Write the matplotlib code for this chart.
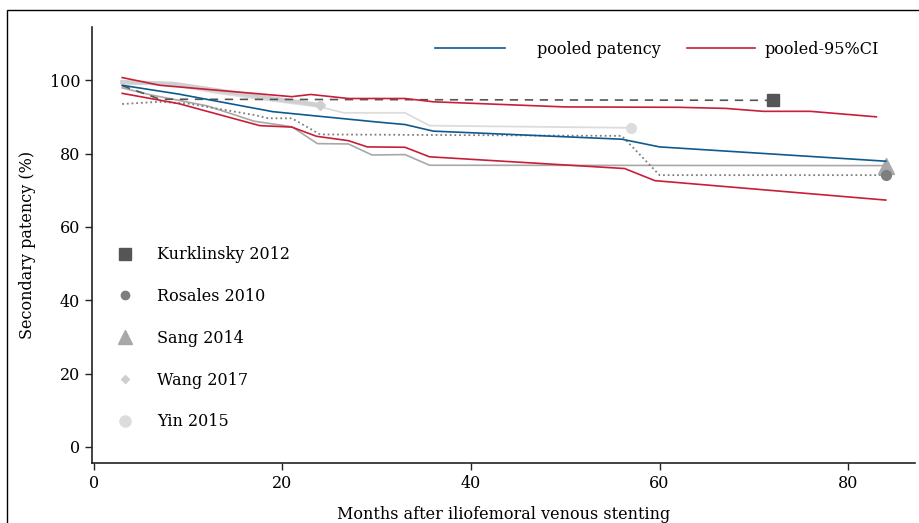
import matplotlib
matplotlib.use("Agg")
import matplotlib.pyplot as plt
from matplotlib.patches import Rectangle
from matplotlib.lines import Line2D

plt.rcParams['font.family'] = ['DejaVu Serif']

# pooled estimate and CI
pooled_x = [3, 9, 19, 30, 33, 36, 56, 60, 84]
pooled_y = [98.6, 96.2, 91.4, 88.6, 87.9, 86.1, 83.9, 81.8, 77.9]
upper_x = [3, 7, 21, 23, 27, 33, 36, 50, 62, 67, 71, 76, 83]
upper_y = [100.7, 98.6, 95.5, 96.1, 95.0, 95.0, 94.1, 92.7, 92.6, 92.3, 91.5, 91.5, 90.0]
lower_x = [3, 9, 17.6, 21, 23.6, 27, 29, 33, 35.6, 56.3, 59.5, 84]
lower_y = [96.4, 93.6, 87.6, 87.2, 84.7, 83.5, 81.8, 81.7, 79.1, 75.9, 72.6, 67.3]

# studies
kurk_x = [3, 7, 72]
kurk_y = [98.5, 94.8, 94.5]
ros_x = [3, 7, 10, 17, 18.5, 21, 24, 56, 60, 84]
ros_y = [93.5, 94.1, 93.6, 90.5, 89.6, 89.6, 85.2, 84.8, 74.1, 74.1]
sang_x = [3, 6, 9, 12, 17, 21, 23.7, 27, 29.5, 33, 35.6, 84]
sang_y = [97.9, 96.0, 94.5, 93.0, 88.8, 87.3, 82.7, 82.6, 79.6, 79.7, 76.8, 76.7]
wang_x = [3, 8.5, 15, 24]
wang_y = [99.5, 99.0, 96.5, 93.2]
yin_x = [3, 8, 13, 20, 24, 26.5, 33, 35.6, 57]
yin_y = [99.0, 98.8, 96.5, 94.0, 92.7, 91.1, 91.1, 87.6, 87.0]

study_names = ["Kurklinsky 2012", "Rosales 2010", "Sang 2014", "Wang 2017", "Yin 2015"]

c_blue = '#0e5a8f'
c_red = '#c81e3a'
c_kurk = '#555555'
c_ros = '#7e7e7e'
c_sang = '#a8a8a8'
c_wang = '#cfcfcf'
c_yin = '#dcdcdc'

fig = plt.figure(figsize=(9.2, 5.23), dpi=100)
ax = fig.add_axes([0.100, 0.1147, 0.8946, 0.8337])

ax.plot(yin_x, yin_y, color=c_yin, lw=1.3, zorder=2)
ax.plot(yin_x[-1], yin_y[-1], 'o', color=c_yin, ms=7, zorder=3)
ax.plot(wang_x, wang_y, color=c_wang, lw=3.0, zorder=2)
ax.plot(wang_x[-1], wang_y[-1], 'D', color=c_wang, ms=5, zorder=3)
ax.plot(sang_x, sang_y, color=c_sang, lw=1.2, zorder=2)
ax.plot(sang_x[-1], sang_y[-1], '^', color=c_sang, ms=11, zorder=3)
ax.plot(ros_x, ros_y, color=c_ros, lw=1.3, ls=(0, (1, 1.6)), zorder=2)
ax.plot(ros_x[-1], ros_y[-1], 'o', color=c_ros, ms=7, zorder=3)
ax.plot(kurk_x, kurk_y, color=c_kurk, lw=1.2, ls=(0, (5, 4)), zorder=2)
ax.plot(kurk_x[-1], kurk_y[-1], 's', color=c_kurk, ms=8, zorder=3)

ax.plot(upper_x, upper_y, color=c_red, lw=1.2, zorder=4)
ax.plot(lower_x, lower_y, color=c_red, lw=1.2, zorder=4)
ax.plot(pooled_x, pooled_y, color=c_blue, lw=1.2, zorder=5)

ax.set_xlim(-0.2, 87.1)
ax.set_ylim(-4.4, 114.5)
ax.set_xticks([0, 20, 40, 60, 80])
ax.set_yticks([0, 20, 40, 60, 80, 100])
for s in ['top', 'right']:
    ax.spines[s].set_visible(False)
for s in ['left', 'bottom']:
    ax.spines[s].set_linewidth(1.2)
    ax.spines[s].set_color('#222222')
ax.tick_params(labelsize=11.5, length=5, width=1.0, colors='#222222', labelcolor='black')
ax.set_xlabel("Months after iliofemoral venous stenting", fontsize=11.5, labelpad=10)
ax.set_ylabel("Secondary patency (%)", fontsize=11.5, labelpad=10)

# top legend (two pieces)
h1 = Line2D([], [], color=c_blue, lw=1.2)
h2 = Line2D([], [], color=c_red, lw=1.2)
legA = ax.legend([h1], ["pooled patency"], loc='upper left',
                 bbox_to_anchor=(0.4168, 0.968), frameon=False, fontsize=11.5,
                 borderpad=0, borderaxespad=0, handlelength=4.4, handletextpad=2.0)
ax.add_artist(legA)
legB = ax.legend([h2], ["pooled-95%CI"], loc='upper left',
                 bbox_to_anchor=(0.723, 0.968), frameon=False, fontsize=11.5,
                 borderpad=0, borderaxespad=0, handlelength=4.25, handletextpad=0.6)
ax.add_artist(legB)

# study legend
mk = [('s', c_kurk, 8), ('o', c_ros, 6), ('^', c_sang, 10), ('D', c_wang, 4), ('o', c_yin, 8)]
handles = [Line2D([], [], ls='none', marker=m, color=c, ms=s) for m, c, s in mk]
ax.legend(handles, study_names, loc='upper left', bbox_to_anchor=(0.0035, 0.53),
          frameon=False, fontsize=11.5, labelspacing=1.55, handletextpad=1.0)

fig.patches.append(Rectangle((0.0076, -0.02), 1.1, 1.001, transform=fig.transFigure,
                             fill=False, edgecolor='black', lw=1.0))

fig.savefig("out.png", dpi=100)
